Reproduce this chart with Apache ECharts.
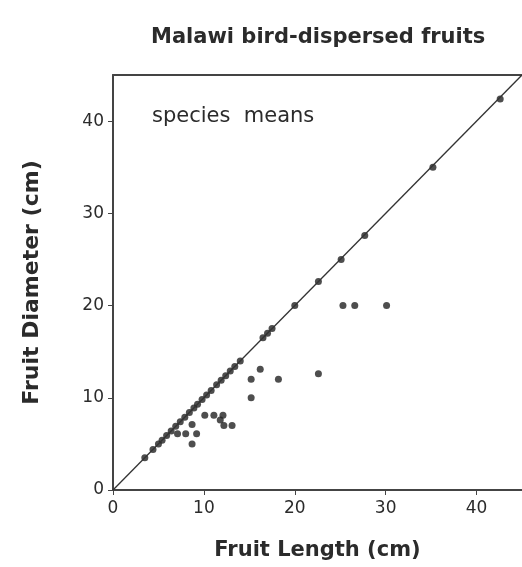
<!DOCTYPE html>
<html>
<head>
<meta charset="utf-8">
<script src="https://cdn.jsdelivr.net/npm/echarts@6/dist/echarts.min.js"></script>
<style>
  html, body { margin: 0; padding: 0; background: #fff; }
  #chart { width: 522px; height: 567px; }
</style>
</head>
<body>
<div id="chart"></div>
<script>
// fruit length / diameter, species means (cm)
var onLine = [
    [3.5, 3.5], [4.4, 4.4], [5.0, 5.0], [5.4, 5.4], [5.9, 5.9], [6.4, 6.4],
    [6.9, 6.9], [7.4, 7.4], [7.9, 7.9], [8.4, 8.4], [8.9, 8.9], [9.3, 9.3],
    [9.8, 9.8], [10.3, 10.3], [10.8, 10.8], [11.4, 11.4], [11.9, 11.9],
    [12.4, 12.4], [12.9, 12.9], [13.4, 13.4], [14.0, 14.0],
    [16.5, 16.5], [17.0, 17.0], [17.5, 17.5], [20.0, 20.0], [22.6, 22.6],
    [25.1, 25.0], [27.7, 27.6], [35.2, 35.0], [42.6, 42.4]
];
var offLine = [
    [7.1, 6.1], [8.0, 6.1], [9.2, 6.1], [8.7, 5.0], [8.7, 7.1],
    [10.1, 8.1], [11.1, 8.1], [12.1, 8.1], [11.8, 7.6], [12.2, 7.0], [13.1, 7.0],
    [15.2, 10.0], [15.2, 12.0], [16.2, 13.1], [18.2, 12.0], [22.6, 12.6],
    [25.3, 20.0], [26.6, 20.0], [30.1, 20.0]
];
var identityLine = [[0, 0], [45, 45]];
var tickValues = [0, 10, 20, 30, 40];

var chart = echarts.init(document.getElementById('chart'));
var font = 'DejaVu Sans, Verdana, sans-serif';
var ink = '#2b2b2b';

var option = {
    animation: false,
    backgroundColor: '#fff',
    title: {
        text: 'Malawi bird-dispersed fruits',
        left: 146,
        top: 22,
        textStyle: {fontFamily: font, fontSize: 21, fontWeight: 'bold', color: ink}
    },
    grid: {left: 113, top: 75, width: 409, height: 415},
    xAxis: [{
        type: 'value', min: 0, max: 45, interval: 10,
        name: 'Fruit Length (cm)', nameLocation: 'middle', nameGap: 50,
        nameTextStyle: {fontFamily: font, fontSize: 21, fontWeight: 'bold', color: ink},
        axisLine: {lineStyle: {color: '#444', width: 2}},
        axisTick: {length: 5, customValues: tickValues, lineStyle: {color: '#444'}},
        axisLabel: {fontFamily: font, fontSize: 17, color: ink, margin: 10, customValues: tickValues},
        splitLine: {show: false}
    }, {
        type: 'value', min: 0, max: 45, position: 'top',
        axisLine: {show: true, onZero: false, lineStyle: {color: '#444', width: 2}},
        axisTick: {show: false}, axisLabel: {show: false}, splitLine: {show: false}
    }],
    yAxis: {
        type: 'value', min: 0, max: 45, interval: 10,
        name: 'Fruit Diameter (cm)', nameLocation: 'middle', nameGap: 70, nameRotate: 90,
        nameTextStyle: {fontFamily: font, fontSize: 22, fontWeight: 'bold', color: ink},
        axisLine: {show: true, lineStyle: {color: '#444', width: 2}},
        axisTick: {show: true, length: 5, customValues: tickValues, lineStyle: {color: '#444'}},
        axisLabel: {fontFamily: font, fontSize: 17, color: ink, margin: 9, customValues: tickValues},
        splitLine: {show: false}
    },
    graphic: [{
        type: 'text', left: 152, top: 106,
        style: {text: 'species  means', font: '21px ' + font, fill: ink}
    }],
    series: [{
        type: 'line', data: identityLine, symbol: 'none',
        lineStyle: {color: '#333', width: 1.3}, silent: true
    }, {
        type: 'scatter', data: onLine, symbolSize: 7,
        itemStyle: {color: '#222'}
    }, {
        type: 'scatter', data: offLine, symbolSize: 7,
        itemStyle: {color: '#222'}
    }]
};
chart.setOption(option);
</script>
</body>
</html>
